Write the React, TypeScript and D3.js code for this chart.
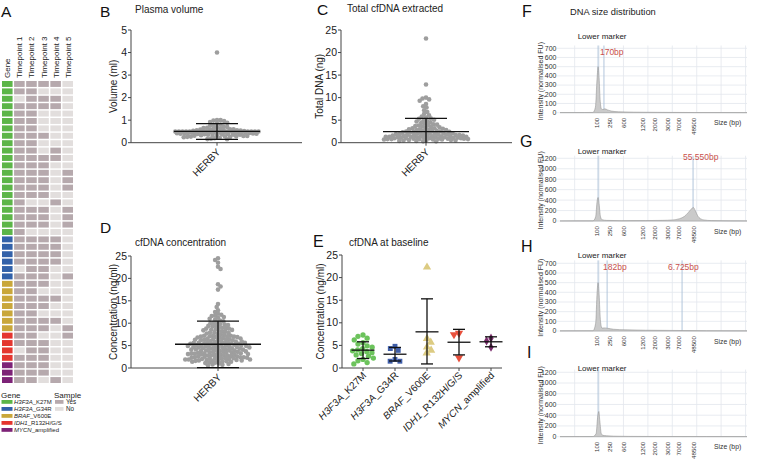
import React, { useEffect } from 'react';
import * as d3 from 'd3';

const FONT = '"Liberation Sans", Arial, Helvetica, sans-serif';

// ---------------- Panel A data ----------------
const geneNames = ['H3F3A', 'H3F3A', 'BRAF', 'IDH1', 'MYCN'];
const geneSuffixes = ['_K27M', '_G34R', '_V600E', '_R132H/G/S', '_amplified'];
const geneColors = ['#5cb548', '#3261a9', '#c9a73a', '#e4352f', '#7d2277'];
const heatColumns = ['Gene', 'Timepoint 1', 'Timepoint 2', 'Timepoint 3', 'Timepoint 4', 'Timepoint 5'];
const heatRowGene = [
  0, 0, 0, 0, 0, 0, 0, 0, 0, 0, 0, 0, 0, 0, 0, 0, 0, 0, 0, 0, 0,
  1, 1, 1, 1, 1, 1,
  2, 2, 2, 2, 2, 2, 2,
  3, 3, 3, 3,
  4, 4, 4,
];
const heatRowSamples = [
  '11110', '11000', '01110', '11110', '11000', '11000', '11000', '11100', '11000', '11010', '11110',
  '11100', '11101', '11101', '11101', '11100', '10010', '11101', '11101', '11101', '10000',
  '11110', '11110', '11110', '11110', '01100', '11101',
  '11100', '11000', '11110', '11100', '11000', '11110', '11101',
  '11001', '11100', '01100', '11100',
  '11100', '11100', '11010',
];
const sampleLabels = ['Yes', 'No'];
const sampleColors = ['#b6a9ad', '#e2dedd'];

// ---------------- Panel B data ----------------
const volumeValues = [
  4.0, 1.0, 1.0, 0.98, 0.96, 0.92, 0.88, 0.84, 0.8, 0.78, 0.75, 0.72, 0.7, 0.68, 0.66, 0.65, 0.63, 0.62,
  0.6, 0.6, 0.58, 0.57, 0.56, 0.55, 0.55, 0.54, 0.53, 0.52, 0.52, 0.51, 0.5, 0.5, 0.5, 0.5, 0.5, 0.5,
  0.5, 0.5, 0.5, 0.5, 0.5, 0.5, 0.5, 0.5, 0.5, 0.5, 0.5, 0.5, 0.49, 0.49, 0.48, 0.48, 0.47, 0.47, 0.46,
  0.45, 0.45, 0.44, 0.44, 0.43, 0.42, 0.42, 0.41, 0.4, 0.4, 0.4, 0.39, 0.38, 0.38, 0.37, 0.36, 0.35,
  0.35, 0.34, 0.33, 0.32, 0.31, 0.3, 0.3, 0.29, 0.28, 0.27, 0.26, 0.25, 0.24, 0.22, 0.2, 0.18, 0.16, 0.15,
];
const volumeStats = [0.15, 0.5, 0.85];
const volumeTicks = [0, 1, 2, 3, 4, 5];

// ---------------- Panel C data ----------------
const dnaValues = [
  23.1, 12.9, 10.0, 9.8, 9.6, 9.3, 8.6, 8.1, 7.8, 7.2, 6.8, 6.4, 6.1, 5.8, 5.6, 5.4, 5.3, 5.1, 5.0, 4.8,
  4.7, 4.5, 4.4, 4.2, 4.1, 4.0, 3.9, 3.8, 3.7, 3.6, 3.5, 3.4, 3.3, 3.2, 3.2, 3.1, 3.0, 3.0, 2.9, 2.8,
  2.8, 2.7, 2.6, 2.6, 2.5, 2.5, 2.4, 2.4, 2.3, 2.3, 2.2, 2.2, 2.1, 2.1, 2.0, 2.0, 2.0, 1.9, 1.9, 1.8,
  1.8, 1.8, 1.7, 1.7, 1.7, 1.6, 1.6, 1.6, 1.5, 1.5, 1.5, 1.4, 1.4, 1.4, 1.3, 1.3, 1.3, 1.3, 1.2, 1.2,
  1.2, 1.2, 1.1, 1.1, 1.1, 1.1, 1.0, 1.0, 1.0, 1.0, 0.9, 0.9, 0.9, 0.9, 0.8, 0.8, 0.8, 0.8, 0.7, 0.7,
  0.7, 0.6, 0.6, 0.6, 0.5, 0.5, 0.4, 0.4, 0.3, 0.3,
];
const dnaStats = [-0.5, 2.45, 5.4];
const concTicks = [0, 5, 10, 15, 20, 25];

// ---------------- Panel D data ----------------
const concValues = [
  24.5, 24.1, 23.5, 22.6, 22.1, 18.7, 18.2, 17.5, 14.3, 13.6, 12.9, 12.5, 12.1, 11.9, 11.7, 11.6, 11.4,
  11.2, 11.0, 10.8, 10.6, 10.4, 10.2, 10.1, 10.0, 9.8, 9.7, 9.5, 9.4, 9.3, 9.1, 9.0, 8.9, 8.8, 8.7, 8.6,
  8.5, 8.4, 8.3, 8.2, 8.1, 8.0, 7.9, 7.8, 7.7, 7.6, 7.5, 7.4, 7.3, 7.2, 7.2, 7.1, 7.0, 7.0, 6.9, 6.8,
  6.8, 6.7, 6.6, 6.6, 6.5, 6.4, 6.4, 6.3, 6.2, 6.2, 6.1, 6.0, 6.0, 5.9, 5.9, 5.8, 5.8, 5.7, 5.7, 5.6,
  5.6, 5.5, 5.5, 5.4, 5.4, 5.3, 5.3, 5.2, 5.2, 5.1, 5.1, 5.0, 5.0, 4.9, 4.9, 4.8, 4.8, 4.7, 4.7, 4.6,
  4.6, 4.5, 4.5, 4.4, 4.4, 4.3, 4.3, 4.2, 4.2, 4.1, 4.1, 4.0, 4.0, 3.9, 3.9, 3.8, 3.8, 3.7, 3.7, 3.6,
  3.6, 3.5, 3.5, 3.4, 3.4, 3.3, 3.3, 3.2, 3.2, 3.1, 3.1, 3.0, 3.0, 2.9, 2.9, 2.8, 2.8, 2.7, 2.7, 2.6,
  2.6, 2.5, 2.5, 2.4, 2.4, 2.3, 2.3, 2.2, 2.2, 2.1, 2.1, 2.0, 2.0, 1.9, 1.9, 1.8, 1.8, 1.7, 1.7, 1.6,
  1.6, 1.5, 1.5, 1.4, 1.4, 1.3, 1.2, 1.1, 1.0, 0.9, 0.8, 0.7, 0.6, 6.3, 7.1, 5.6, 4.4, 3.3, 2.4, 1.9,
  8.8, 9.6, 5.1, 6.9, 4.8, 3.1, 2.2, 1.7,
];
const concStats = [0.1, 5.3, 10.45];

// ---------------- Panel E data ----------------
const baselineGroups = ['H3F3A_K27M', 'H3F3A_G34R', 'BRAF_V600E', 'IDH1_R132H/G/S', 'MYCN_amplified'];
const k27mValues = [7.3, 7.0, 6.6, 6.2, 5.6, 5.3, 4.9, 4.6, 4.3, 4.0, 3.8, 3.6, 3.4, 3.2, 2.9, 2.6, 2.2, 1.9, 1.6, 1.2, 0.9];
const g34rValues = [4.8, 4.3, 3.9, 1.9, 1.5, 1.5];
const brafValues = [22.3, 6.5, 5.7, 4.6, 3.9, 3.3];
const idh1Values = [7.7, 7.4, 2.3];
const mycnValues = [6.6, 6.0, 4.6];
const baselineStats = [
  [2.1, 3.95, 5.8],
  [1.55, 3.05, 4.55],
  [0.9, 8.0, 15.3],
  [2.9, 5.7, 8.55],
  [4.7, 5.8, 6.9],
];
const baselineColors = ['#6cc35c', '#3f5ea9', '#dccb82', '#e8503c', '#7a2c6c'];

// ---------------- Panels F-I data ----------------
const ladderLabels = ['100', '250', '600', '1200', '2000', '3000', '7000', '48500'];
const ladderTimes = [15.2, 20.5, 26.2, 33.8, 38.9, 44.1, 48.6, 54.7];
const gridTimes = [6, 16, 26, 36, 46, 56, 66, 76];
const markerTime = 15.6;
const traceF = [[0, 2], [10, 2], [13.5, 3], [14.5, 60], [15.2, 380], [15.6, 500], [16.0, 380], [16.5, 120], [17, 40], [17.6, 35], [18.4, 42], [19.5, 30], [21, 18], [24, 10], [30, 6], [40, 4], [55, 2], [76.6, 1]];
const traceG = [[0, 2], [13.5, 3], [14.6, 80], [15.2, 380], [15.6, 450], [16.0, 330], [16.6, 80], [17.2, 25], [19, 12], [25, 6], [35, 8], [42, 12], [46, 20], [49, 45], [51, 90], [52.5, 160], [53.8, 230], [54.6, 260], [55.4, 200], [56.4, 100], [57.5, 45], [59, 20], [62, 8], [70, 3], [76.6, 2]];
const traceH = [[0, 2], [13.5, 3], [14.6, 80], [15.2, 400], [15.6, 500], [16.0, 380], [16.6, 100], [17.2, 30], [18.2, 32], [19.5, 28], [22, 18], [27, 12], [35, 8], [45, 6], [50, 5], [60, 3], [76.6, 2]];
const traceI = [[0, 2], [8, 3], [13.5, 3], [14.8, 60], [15.4, 360], [15.9, 470], [16.3, 300], [16.9, 60], [17.6, 25], [19, 18], [22, 10], [28, 6], [40, 4], [60, 3], [76.6, 2]];
const ticks700 = [0, 100, 200, 300, 400, 500, 600, 700];
const ticks1200 = [0, 200, 400, 600, 800, 1000, 1200];
const peakTimesF = [18.0];
const peakLabelsF = ['170bp'];
const peakTimesG = [54.5];
const peakLabelsG = ['55.550bp'];
const peakTimesH = [19.3, 50.0];
const peakLabelsH = ['182bp', '6.725bp'];

// ---------------- helpers ----------------
function beeswarm(ys: number[], diam: number, maxHalf: number): number[] {
  const idx = ys.map((_, i) => i).sort((a, b) => ys[a] - ys[b]);
  const offs = new Array(ys.length).fill(0);
  const placed: number[] = [];
  const d2 = diam * diam;
  idx.forEach((i, k) => {
    const y = ys[i];
    const near = placed.filter((j) => Math.abs(ys[j] - y) < diam);
    const cands = [0];
    near.forEach((j) => {
      const dy = ys[j] - y;
      const dx = Math.sqrt(Math.max(0, d2 - dy * dy));
      cands.push(offs[j] + dx, offs[j] - dx);
    });
    const ok = (c: number) => near.every((j) => (offs[j] - c) ** 2 + (ys[j] - y) ** 2 >= d2 - 1e-6);
    const valid = cands
      .filter((c) => Math.abs(c) <= maxHalf && ok(c))
      .sort((a, b) => Math.abs(a) - Math.abs(b) || (k % 2 ? a - b : b - a));
    let chosen = 0;
    if (valid.length) chosen = valid[0];
    else {
      let bestD = -1;
      for (let c = -maxHalf; c <= maxHalf + 1e-9; c += 0.5) {
        let md = Infinity;
        near.forEach((j) => {
          const dd = (offs[j] - c) ** 2 + (ys[j] - y) ** 2;
          if (dd < md) md = dd;
        });
        if (md > bestD) {
          bestD = md;
          chosen = c;
        }
      }
    }
    offs[i] = chosen;
    placed.push(i);
  });
  return offs;
}

function PanelLetter({ x, y, t, size = 15.5 }: any) {
  return (
    <text x={x} y={y} fontSize={size} fill="#111">
      {t}
    </text>
  );
}

function DotPanel({ values, stats, ticks, yTop, yBottom, axisX, axisX1, cx, diam, title, titleX, titleY, yLabel, yLabelX, letter, letterX, letterY }: any) {
  const y = d3.scaleLinear().domain([0, ticks[ticks.length - 1]]).range([yBottom, yTop]);
  const ys = values.map((v: number) => y(v));
  const offs = beeswarm(ys, diam, 42);
  const [lo, mean, hi] = stats;
  const mid = (yTop + yBottom) / 2;
  return (
    <g>
      <PanelLetter x={letterX} y={letterY} t={letter} />
      <text x={titleX} y={titleY} fontSize={10} fill="#222">{title}</text>
      <text transform={`translate(${yLabelX},${mid}) rotate(-90)`} textAnchor="middle" fontSize={10} fill="#222">{yLabel}</text>
      {values.map((v: number, i: number) => (
        <circle key={i} cx={cx + offs[i]} cy={ys[i]} r={2.3} fill="#9e9e9e" />
      ))}
      <line x1={axisX} x2={axisX} y1={yTop} y2={yBottom} stroke="#444" strokeWidth={1} />
      {ticks.map((t: number) => (
        <g key={t}>
          <line x1={axisX - 3} x2={axisX} y1={y(t)} y2={y(t)} stroke="#444" />
          <text x={axisX - 4} y={y(t) + 3.6} textAnchor="end" fontSize={10.5} fill="#222">{t}</text>
        </g>
      ))}
      <line x1={axisX} x2={axisX1} y1={yBottom} y2={yBottom} stroke="#444" strokeWidth={1} />
      <line x1={cx} x2={cx} y1={yBottom} y2={yBottom + 3} stroke="#444" />
      <text transform={`translate(${cx + 4},${yBottom + 10}) rotate(-45)`} textAnchor="end" fontSize={10} fill="#222">HERBY</text>
      <line x1={cx} x2={cx} y1={y(Math.max(0, lo))} y2={y(hi)} stroke="#111" strokeWidth={1.3} />
      <line x1={cx - 43} x2={cx + 43} y1={y(mean)} y2={y(mean)} stroke="#111" strokeWidth={1.3} />
      <line x1={cx - 21} x2={cx + 21} y1={y(hi)} y2={y(hi)} stroke="#111" strokeWidth={1.3} />
      {lo >= 0 && <line x1={cx - 21} x2={cx + 21} y1={y(lo)} y2={y(lo)} stroke="#111" strokeWidth={1.3} />}
    </g>
  );
}

function PanelA() {
  const xb = d3.scaleBand().domain(heatColumns).range([2, 73]).paddingInner(0.125);
  const yb = d3.scaleBand().domain(heatRowGene.map((_, i) => String(i))).range([81, 383]).paddingInner(0.2);
  const bw = xb.bandwidth();
  return (
    <g>
      <PanelLetter x={1} y={17} t="A" />
      {heatColumns.map((c) => (
        <text key={c} transform={`translate(${(xb(c) as number) + bw / 2 + 3},${78}) rotate(-90)`} fontSize={8} fill="#222">
          {c}
        </text>
      ))}
      {heatRowGene.map((g, r) => (
        <g key={r}>
          <rect x={xb('Gene')} y={yb(String(r))} width={bw} height={yb.bandwidth()} fill={geneColors[g]} />
          {heatRowSamples[r].split('').map((s, k) => (
            <rect key={k} x={xb(heatColumns[k + 1])} y={yb(String(r))} width={bw} height={yb.bandwidth()} fill={s === '1' ? sampleColors[0] : sampleColors[1]} />
          ))}
        </g>
      ))}
      <text x={1} y={397.5} fontSize={8} fill="#222">Gene</text>
      {geneNames.map((g, i) => (
        <g key={i}>
          <rect x={1.5} y={400 + i * 7} width={11} height={3.8} fill={geneColors[i]} />
          <text x={14} y={404.2 + i * 7} fontSize={6} fill="#222">
            <tspan fontStyle="italic">{g}</tspan>
            {geneSuffixes[i]}
          </text>
        </g>
      ))}
      <text x={54} y={397.5} fontSize={8} fill="#222">Sample</text>
      {sampleLabels.map((s, i) => (
        <g key={s}>
          <rect x={55} y={400 + i * 7} width={8.5} height={3.8} fill={sampleColors[i]} />
          <text x={66} y={404.2 + i * 7} fontSize={6.3} fill="#222">{s}</text>
        </g>
      ))}
    </g>
  );
}

function PanelE() {
  const yTop = 255;
  const yBottom = 368;
  const axisX = 342;
  const y = d3.scaleLinear().domain([0, 25]).range([yBottom, yTop]);
  const x = d3.scalePoint().domain(baselineGroups).range([363, 491]);
  const groups = [k27mValues, g34rValues, brafValues, idh1Values, mycnValues];
  const symbols = [d3.symbolCircle, d3.symbolSquare, d3.symbolTriangle, d3.symbolTriangle, d3.symbolDiamond];
  const sizes = [22, 24, 30, 30, 24];
  const rotations = [0, 0, 0, 180, 0];
  return (
    <g>
      <PanelLetter x={313} y={247} t="E" size={16} />
      <text x={349} y={246} fontSize={10} fill="#222">cfDNA at baseline</text>
      <text transform={`translate(324,${(yTop + yBottom) / 2}) rotate(-90)`} textAnchor="middle" fontSize={10} fill="#222">Concentration (ng/ml)</text>
      {groups.map((vals, gi) => {
        const cx = x(baselineGroups[gi]) as number;
        const ys = vals.map((v) => y(v));
        const offs = beeswarm(ys, 5.2, 11);
        const path = d3.symbol().type(symbols[gi]).size(sizes[gi])() as string;
        return (
          <g key={gi}>
            {vals.map((v, i) => (
              <path key={i} d={path} transform={`translate(${cx + offs[i]},${ys[i]}) rotate(${rotations[gi]})`} fill={baselineColors[gi]} />
            ))}
          </g>
        );
      })}
      <line x1={axisX} x2={axisX} y1={yTop} y2={yBottom} stroke="#444" />
      {concTicks.map((t) => (
        <g key={t}>
          <line x1={axisX - 3} x2={axisX} y1={y(t)} y2={y(t)} stroke="#444" />
          <text x={axisX - 4} y={y(t) + 3.6} textAnchor="end" fontSize={10.5} fill="#222">{t}</text>
        </g>
      ))}
      <line x1={axisX} x2={502} y1={yBottom} y2={yBottom} stroke="#444" />
      {baselineGroups.map((g, gi) => {
        const cx = x(g) as number;
        const [lo, mean, hi] = baselineStats[gi];
        return (
          <g key={g}>
            <line x1={cx} x2={cx} y1={yBottom} y2={yBottom + 3} stroke="#444" />
            <text transform={`translate(${cx + 4},${yBottom + 8}) rotate(-45)`} textAnchor="end" fontSize={10} fill="#222">
              <tspan fontStyle="italic">{geneNames[gi]}</tspan>
              {geneSuffixes[gi]}
            </text>
            <line x1={cx} x2={cx} y1={y(lo)} y2={y(hi)} stroke="#111" strokeWidth={1.3} />
            <line x1={cx - 11.5} x2={cx + 11.5} y1={y(mean)} y2={y(mean)} stroke="#111" strokeWidth={1.3} />
            <line x1={cx - 6} x2={cx + 6} y1={y(hi)} y2={y(hi)} stroke="#111" strokeWidth={1.3} />
            <line x1={cx - 6} x2={cx + 6} y1={y(lo)} y2={y(lo)} stroke="#111" strokeWidth={1.3} />
          </g>
        );
      })}
    </g>
  );
}

function Electro({ trace, yMax, ticks, yTop, yBottom, peaks, peakLabels, peakDx, peakY, lmY, letter, letterX, letterY }: any) {
  const x = d3.scaleLinear().domain([0, 76.6]).range([560, 747]);
  const y = d3.scaleLinear().domain([0, yMax]).range([yBottom, yTop]);
  const area = d3
    .area<number[]>()
    .x((d) => x(d[0]))
    .y0(yBottom)
    .y1((d) => y(d[1]))
    .curve(d3.curveMonotoneX);
  const line = d3
    .line<number[]>()
    .x((d) => x(d[0]))
    .y((d) => y(d[1]))
    .curve(d3.curveMonotoneX);
  const grid = '#e3e7ed';
  const blue = '#a9bfd8';
  return (
    <g>
      <PanelLetter x={letterX} y={letterY} t={letter} size={16} />
      {ticks.map((t: number) => (
        <g key={t}>
          <line x1={557} x2={747} y1={y(t)} y2={y(t)} stroke={grid} strokeWidth={0.8} />
          <text x={556.5} y={y(t) + 2.4} textAnchor="end" fontSize={7} fill="#333">{t}</text>
        </g>
      ))}
      {gridTimes.map((t) => (
        <line key={t} x1={x(t)} x2={x(t)} y1={yTop} y2={yBottom} stroke={grid} strokeWidth={0.8} />
      ))}
      <text transform={`translate(543,${(yTop + yBottom) / 2 + 2}) rotate(-90)`} textAnchor="middle" fontSize={7} fill="#333">
        Intensity (normalised FU)
      </text>
      <line x1={x(markerTime)} x2={x(markerTime)} y1={yTop} y2={yBottom} stroke={blue} strokeWidth={0.9} />
      {peaks.map((p: number, i: number) => (
        <line key={i} x1={x(p)} x2={x(p)} y1={yTop} y2={yBottom} stroke={blue} strokeWidth={0.9} />
      ))}
      <path d={area(trace) as string} fill="#cacaca" />
      <path d={line(trace) as string} fill="none" stroke="#888" strokeWidth={0.5} />
      <line x1={560} x2={747} y1={yBottom} y2={yBottom} stroke="#aaa" strokeWidth={0.8} />
      <text x={x(markerTime) + 4} y={lmY} textAnchor="middle" fontSize={8} fill="#222">Lower marker</text>
      {peakLabels.map((l: string, i: number) => (
        <text key={l} x={x(peaks[i]) + peakDx[i]} y={peakY} fontSize={8.5} fill="#c8504c">{l}</text>
      ))}
      {ladderTimes.map((t, i) => (
        <text key={i} transform={`translate(${x(t) + 2.2},${yBottom + 5}) rotate(-90)`} textAnchor="end" fontSize={6.2} fill="#333">
          {ladderLabels[i]}
        </text>
      ))}
      <text x={714} y={yBottom + 12.5} fontSize={6.8} fill="#333">Size (bp)</text>
    </g>
  );
}

export default function App() {
  useEffect(() => {
    document.body.style.margin = '0';
  }, []);
  return (
    <svg width={760} height={461} style={{ position: 'absolute', left: 0, top: 0, background: '#fff' }} fontFamily={FONT}>
      <rect width={760} height={461} fill="#fff" />
      <PanelA />
      <DotPanel
        values={volumeValues} stats={volumeStats} ticks={volumeTicks} yTop={30} yBottom={142.7}
        axisX={131} axisX1={302} cx={217} diam={3.6}
        title="Plasma volume" titleX={135} titleY={13} yLabel="Volume (ml)" yLabelX={117}
        letter="B" letterX={100} letterY={17}
      />
      <DotPanel
        values={dnaValues} stats={dnaStats} ticks={concTicks} yTop={30} yBottom={142.7}
        axisX={341} axisX1={512} cx={426} diam={3.6}
        title="Total cfDNA extracted" titleX={347} titleY={12} yLabel="Total DNA (ng)" yLabelX={323}
        letter="C" letterX={317} letterY={15}
      />
      <DotPanel
        values={concValues} stats={concStats} ticks={concTicks} yTop={256} yBottom={368}
        axisX={131} axisX1={302} cx={218} diam={3.4}
        title="cfDNA concentration" titleX={135} titleY={246} yLabel="Concentration (ng/ml)" yLabelX={117}
        letter="D" letterX={100} letterY={233}
      />
      <PanelE />
      <text x={570} y={15} fontSize={9.3} fill="#222">DNA size distribution</text>
      <Electro trace={traceF} yMax={730} ticks={ticks700} yTop={45.5} yBottom={112.7}
        peaks={peakTimesF} peakLabels={peakLabelsF} peakDx={[-4]} peakY={55} lmY={39}
        letter="F" letterX={522} letterY={17} />
      <Electro trace={traceG} yMax={1250} ticks={ticks1200} yTop={155.7} yBottom={221}
        peaks={peakTimesG} peakLabels={peakLabelsG} peakDx={[-10]} peakY={160} lmY={154}
        letter="G" letterX={520} letterY={147} />
      <Electro trace={traceH} yMax={730} ticks={ticks700} yTop={260.4} yBottom={331}
        peaks={peakTimesH} peakLabels={peakLabelsH} peakDx={[-4, -14]} peakY={270} lmY={258}
        letter="H" letterX={521} letterY={252} />
      <Electro trace={traceI} yMax={1250} ticks={ticks1200} yTop={369.6} yBottom={436.7}
        peaks={[]} peakLabels={[]} peakDx={[]} peakY={0} lmY={371}
        letter="I" letterX={527} letterY={358} />
    </svg>
  );
}
